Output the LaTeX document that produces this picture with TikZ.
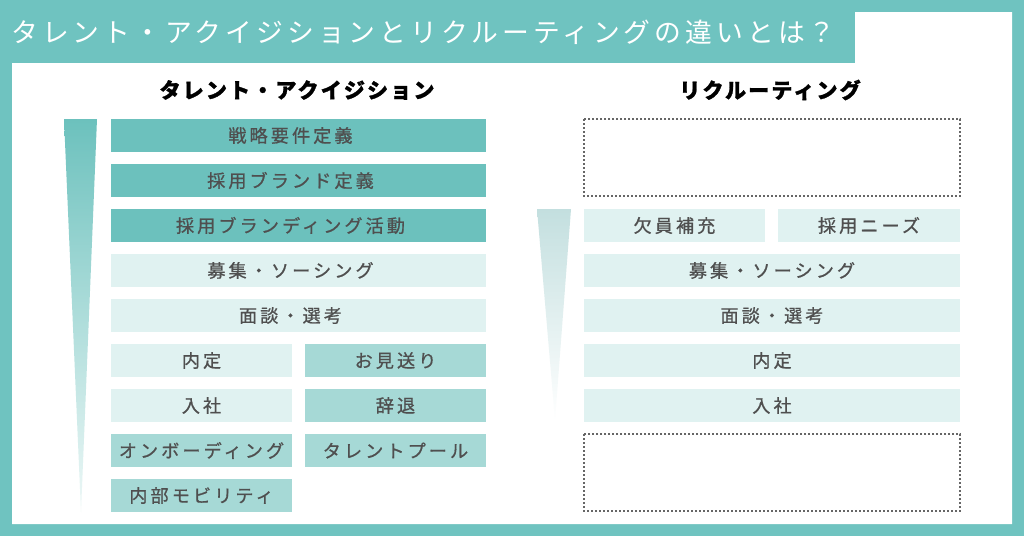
\documentclass[tikz,border=0pt]{standalone}
\usepackage{fontspec}
\setmainfont{Noto Sans CJK JP}
\newfontfamily\jpbox[LetterSpace=17, FakeBold=0.8]{Noto Sans CJK JP}
\newfontfamily\jptitle[LetterSpace=15]{Noto Sans CJK JP}
\newfontfamily\jphead[LetterSpace=10, BoldFeatures={FakeBold=1.2}]{Noto Sans CJK JP}
\definecolor{bgteal}{HTML}{6FC3C0}
\definecolor{tealdark}{HTML}{6CC1BD}
\definecolor{tealmid}{HTML}{A6D9D6}
\definecolor{teallight}{HTML}{E0F2F1}
\definecolor{textgray}{HTML}{4F4F4F}
\definecolor{dotgray}{HTML}{666666}
\definecolor{tritopL}{HTML}{6CC1BD}
\definecolor{tribotL}{HTML}{EEF8F7}
\definecolor{tritopR}{HTML}{C3DFDF}
\definecolor{tribotR}{HTML}{FFFFFF}
\tikzset{
  cell/.style={inner sep=0pt, minimum height=24.75pt, text=textgray,
    font=\jpbox\fontsize{13.6pt}{15pt}\selectfont},
  fullL/.style={cell, minimum width=281.25pt, execute at end node={\hspace*{12pt}}},
  halfL/.style={cell, minimum width=135.75pt},
  fullR/.style={cell, minimum width=282pt},
  halfRa/.style={cell, minimum width=135.75pt},
  halfRb/.style={cell, minimum width=136.5pt},
  cdark/.style={fill=tealdark},
  cmid/.style={fill=tealmid},
  clight/.style={fill=teallight},
  heading/.style={inner sep=0pt, text=black,
    font=\jphead\bfseries\fontsize{15.8pt}{18pt}\selectfont},
  dotbox/.style={draw=dotgray, line width=1.5pt, dash pattern=on 1.5pt off 1.5pt},
}
\begin{document}
\begin{tikzpicture}[x=0.75pt,y=-0.75pt]
\useasboundingbox (0,0) rectangle (1024,536);
\fill[bgteal] (0,0) rectangle (1024,536);
\fill[white] (12,63) -- (855,63) -- (855,12) -- (1012,12) -- (1012,524) -- (12,524) -- cycle;
\node[anchor=west, inner sep=0pt, text=white,
  font=\jptitle\fontsize{20.1pt}{22pt}\selectfont] (title) at (11,32)
  {タレント・アクイジションとリクルーティングの違いとは？};
% headings
\node[heading] (hL) at (297,90) {タレント・アクイジション};
\node[heading] (hR) at (770,90) {リクルーティング};
% gradient triangles
\shade[top color=tritopL, bottom color=tribotL] (64,119) -- (97,119) -- (81,512) -- cycle;
\shade[top color=tritopR, bottom color=tribotR] (537,209) -- (571,209) -- (555,420) -- cycle;
% left column
\node[fullL, cdark] (l1) at (298.5,135.5) {戦略要件定義};
\node[fullL, cdark] (l2) at (298.5,180.5) {採用ブランド定義};
\node[fullL, cdark] (l3) at (298.5,225.5) {採用ブランディング活動};
\node[fullL, clight] (l4) at (298.5,270.5) {募集・ソーシング};
\node[fullL, clight] (l5) at (298.5,315.5) {面談・選考};
\node[halfL, clight] (l6a) at (201.5,360.5) {内定};
\node[halfL, cmid] (l6b) at (395.5,360.5) {お見送り};
\node[halfL, clight] (l7a) at (201.5,405.5) {入社};
\node[halfL, cmid] (l7b) at (395.5,405.5) {辞退};
\node[halfL, cmid] (l8a) at (201.5,450.5) {オンボーディング};
\node[halfL, cmid] (l8b) at (395.5,450.5) {タレントプール};
\node[halfL, cmid] (l9a) at (201.5,495.5) {内部モビリティ};
% right column
\draw[dotbox] (584,119) rectangle (960,196);
\node[halfRa, clight] (r1a) at (674.5,225.5) {欠員補充};
\node[halfRb, clight] (r1b) at (869,225.5) {採用ニーズ};
\node[fullR, clight] (r2) at (772,270.5) {募集・ソーシング};
\node[fullR, clight] (r3) at (772,315.5) {面談・選考};
\node[fullR, clight] (r4) at (772,360.5) {内定};
\node[fullR, clight] (r5) at (772,405.5) {入社};
\draw[dotbox] (584,434) rectangle (960,511);
\end{tikzpicture}
\end{document}
